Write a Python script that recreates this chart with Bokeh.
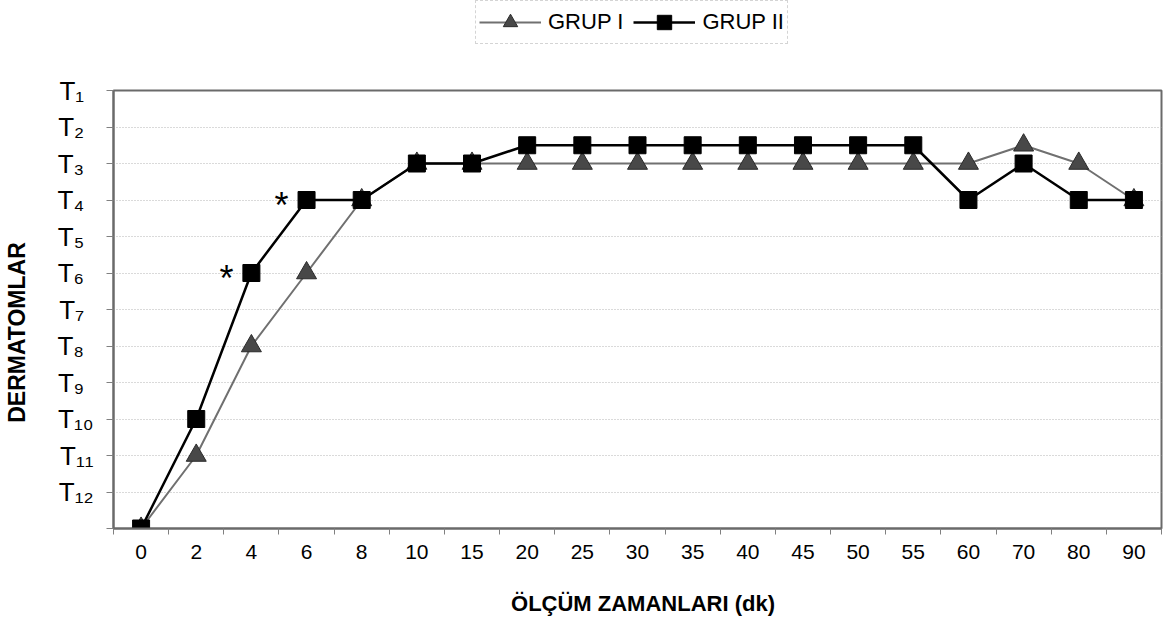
from bokeh.plotting import figure
from bokeh.layouts import column
from bokeh.models import (FactorRange, Range1d, LinearAxis, FixedTicker,
                          Legend, LegendItem, ColumnDataSource)
from bokeh.core.properties import value
from bokeh.embed import file_html
from bokeh.resources import INLINE

# ---- data ----
times = ["0", "2", "4", "6", "8", "10", "15", "20", "25", "30",
         "35", "40", "45", "50", "55", "60", "70", "80", "90"]
grup1 = [13, 11, 8, 6, 4, 3, 3, 3, 3, 3, 3, 3, 3, 3, 3, 3, 2.5, 3, 4]
grup2 = [13, 10, 6, 4, 4, 3, 3, 2.5, 2.5, 2.5, 2.5, 2.5, 2.5, 2.5, 2.5, 4, 3, 4, 4]
dermatomes = list(range(1, 13))          # T1 ... T12
y_ticks = list(range(1, 14))
sig_times = ["4", "6"]
sig_marks = ["*", "*"]
series_names = ["GRUP I", "GRUP II"]
x_title = "ÖLÇÜM ZAMANLARI (dk)"
y_title = "DERMATOMLAR"

FONT = "Liberation Sans"
FRAME_COL = "#6a6a6a"
SUB = str.maketrans("0123456789", "₀₁₂₃₄₅₆₇₈₉")
PAD = "\u2008\u200a"   # about one subscript digit wide, keeps the T's aligned


def t_label(k):
    s = "T" + str(k).translate(SUB)
    return s + PAD if k < 10 else s


G1 = dict(line_color="#707070", line_width=2)
G1M = dict(marker="triangle", size=20, fill_color="#484848", line_color="#2a2a2a", line_width=1)
G2 = dict(line_color="black", line_width=2.5)
G2M = dict(marker="square", size=17, fill_color="black", line_color="black")

src = ColumnDataSource(dict(t=times, g1=grup1, g2=grup2))
sig_y = [grup2[times.index(t)] for t in sig_times]
sig_src = ColumnDataSource(dict(t=sig_times, y=sig_y, m=sig_marks))

LEG_H = 46
p = figure(width=1166, height=621 - LEG_H,
           x_range=FactorRange(factors=times), y_range=Range1d(13, 1),
           x_axis_location=None, output_backend="svg", toolbar_location=None,
           min_border_left=113, min_border_right=5, min_border_top=90 - LEG_H,
           min_border_bottom=93)
p.background_fill_color = "white"
p.border_fill_color = "white"
p.outline_line_color = FRAME_COL
p.outline_line_width = 2

# grid
p.xgrid.visible = False
p.ygrid.ticker = FixedTicker(ticks=list(range(2, 13)))
p.ygrid.grid_line_color = "#b4b4b4"
p.ygrid.grid_line_dash = "1 2"
p.ygrid.grid_line_width = 1

# y axis: T1..T12 (top to bottom)
ya = p.yaxis[0]
ya.ticker = FixedTicker(ticks=y_ticks)
ya.major_tick_out = 7
ya.major_tick_in = 0
ya.minor_tick_out = 0
ya.minor_tick_in = 0
ya.major_tick_line_color = "#808080"
ya.axis_line_color = FRAME_COL
ya.axis_line_width = 2
ya.major_label_overrides = {k: (t_label(k) if k in dermatomes else "") for k in y_ticks}
ya.major_label_text_font = FONT
ya.major_label_text_font_size = "26px"
ya.major_label_text_color = "black"
ya.major_label_standoff = 13
ya.axis_label = y_title + "\u2003\u2003"
ya.axis_label_text_font = FONT
ya.axis_label_text_font_style = "bold"
ya.axis_label_text_font_size = "23px"
ya.axis_label_text_color = "black"
ya.axis_label_standoff = 24

# x axis on the factor range: labels at category centres, ticks between categories
xa = LinearAxis(ticker=FixedTicker(ticks=[i + 0.5 for i in range(len(times))],
                                   minor_ticks=list(range(len(times) + 1))))
xa.major_label_overrides = {i + 0.5: t for i, t in enumerate(times)}
xa.major_tick_out = 0
xa.major_tick_in = 0
xa.minor_tick_out = 6
xa.minor_tick_in = 0
xa.minor_tick_line_color = "#808080"
xa.axis_line_color = FRAME_COL
xa.axis_line_width = 2
xa.major_label_text_font = FONT
xa.major_label_text_font_size = "21px"
xa.major_label_text_color = "black"
xa.major_label_standoff = 10
xa.axis_label = "\u2002" + x_title
xa.axis_label_text_font = FONT
xa.axis_label_text_font_style = "bold"
xa.axis_label_text_font_size = "22px"
xa.axis_label_text_color = "black"
xa.axis_label_standoff = 29
p.add_layout(xa, "below")

# series
p.line(x="t", y="g1", source=src, **G1)
p.scatter(x="t", y="g1", source=src, **G1M)
p.line(x="t", y="g2", source=src, **G2)
p.scatter(x="t", y="g2", source=src, **G2M)

# significance marks
p.text(x="t", y="y", text="m", source=sig_src, text_font=value(FONT),
       text_font_size="36px", text_align="center", text_baseline="alphabetic",
       x_offset=-25, y_offset=5, text_color="black")

# ---- legend strip above the chart ----
lf = figure(width=1166, height=LEG_H, x_range=Range1d(0, 1), y_range=Range1d(0, 1),
            output_backend="svg", toolbar_location=None, min_border=0,
            x_axis_location=None, y_axis_location=None)
lf.grid.visible = False
lf.outline_line_color = None
lf.background_fill_color = "white"
lf.border_fill_color = "white"
nan = float("nan")
key_src = ColumnDataSource(dict(x=[nan], y=[nan]))   # legend keys only, nothing plotted
r1 = lf.line(x="x", y="y", source=key_src, **G1)
m1 = lf.scatter(x="x", y="y", source=key_src, **G1M)
r2 = lf.line(x="x", y="y", source=key_src, **G2)
m2 = lf.scatter(x="x", y="y", source=key_src, **G2M)

legend = Legend(items=[LegendItem(label=series_names[0], renderers=[r1, m1]),
                       LegendItem(label=series_names[1], renderers=[r2, m2])],
                orientation="horizontal", location=(362, 2))
legend.label_text_font = FONT
legend.label_text_font_size = "22px"
legend.label_text_color = "black"
legend.glyph_width = 62
legend.glyph_height = 36
legend.label_standoff = 7
legend.spacing = 10
legend.padding = 3
legend.margin = 0
legend.border_line_color = "#aaaaaa"
legend.border_line_dash = "1 2"
legend.border_line_width = 1
legend.background_fill_color = "white"
legend.background_fill_alpha = 1
lf.add_layout(legend, "center")

layout = column(lf, p, spacing=0)
open("out.html", "w").write(file_html(layout, INLINE))
